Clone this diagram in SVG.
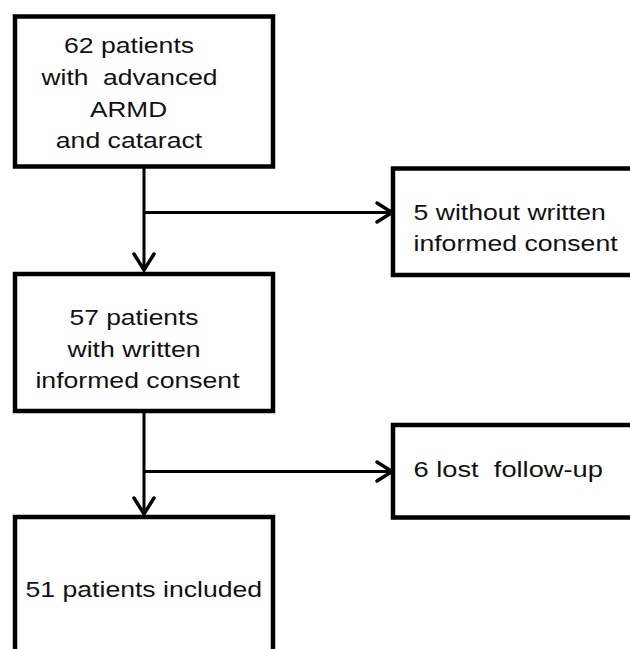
<svg xmlns="http://www.w3.org/2000/svg" width="630" height="649" viewBox="0 0 630 649">
<style>
.box{fill:#fff;stroke:#000;stroke-width:4.5}
.ln{fill:none;stroke:#000;stroke-width:3}
.ah{fill:none;stroke:#000;stroke-width:3.5;stroke-linecap:round;stroke-linejoin:miter}
text{font-family:"Liberation Sans",Arial,sans-serif;font-size:22px;fill:#111;white-space:pre}
.c{text-anchor:middle}
</style>
<rect width="630" height="649" fill="#fff"/>
<g id="connectors">
<line class="ln" x1="144" y1="167" x2="144" y2="270"/>
<line class="ln" x1="144" y1="212.5" x2="391" y2="212.5"/>
<polyline class="ah" points="134,254 144,270 154,254"/>
<polyline class="ah" points="377,203 392,212.5 377,222"/>
<line class="ln" x1="144" y1="411" x2="144" y2="514"/>
<line class="ln" x1="144" y1="471.5" x2="391" y2="471.5"/>
<polyline class="ah" points="134,498 144,514 154,498"/>
<polyline class="ah" points="377,462 392,471.5 377,481"/>
</g>
<g id="n1">
<rect class="box" x="15" y="16.5" width="258" height="150"/>
<text class="c" transform="translate(129,53) scale(1.21,1)">62 patients</text>
<text class="c" transform="translate(129.5,85) scale(1.2,1)">with  advanced</text>
<text class="c" transform="translate(128.5,116.5) scale(1.19,1)">ARMD</text>
<text class="c" transform="translate(129,148) scale(1.21,1)">and cataract</text>
</g>
<g id="n2">
<rect class="box" x="393" y="168.5" width="250" height="106.5"/>
<text transform="translate(413.5,220) scale(1.21,1)">5 without written</text>
<text transform="translate(413.5,250.5) scale(1.21,1)">informed consent</text>
</g>
<g id="n3">
<rect class="box" x="15" y="274" width="258" height="137"/>
<text class="c" transform="translate(134,325) scale(1.2,1)">57 patients</text>
<text class="c" transform="translate(134,356.5) scale(1.21,1)">with written</text>
<text class="c" transform="translate(137.5,388) scale(1.21,1)">informed consent</text>
</g>
<g id="n4">
<rect class="box" x="393" y="425" width="250" height="92.5"/>
<text transform="translate(413.5,477) scale(1.24,1)">6 lost  follow-up</text>
</g>
<g id="n5">
<rect class="box" x="15" y="517" width="258" height="150"/>
<text transform="translate(25.5,596.5) scale(1.21,1)">51 patients included</text>
</g>
</svg>
